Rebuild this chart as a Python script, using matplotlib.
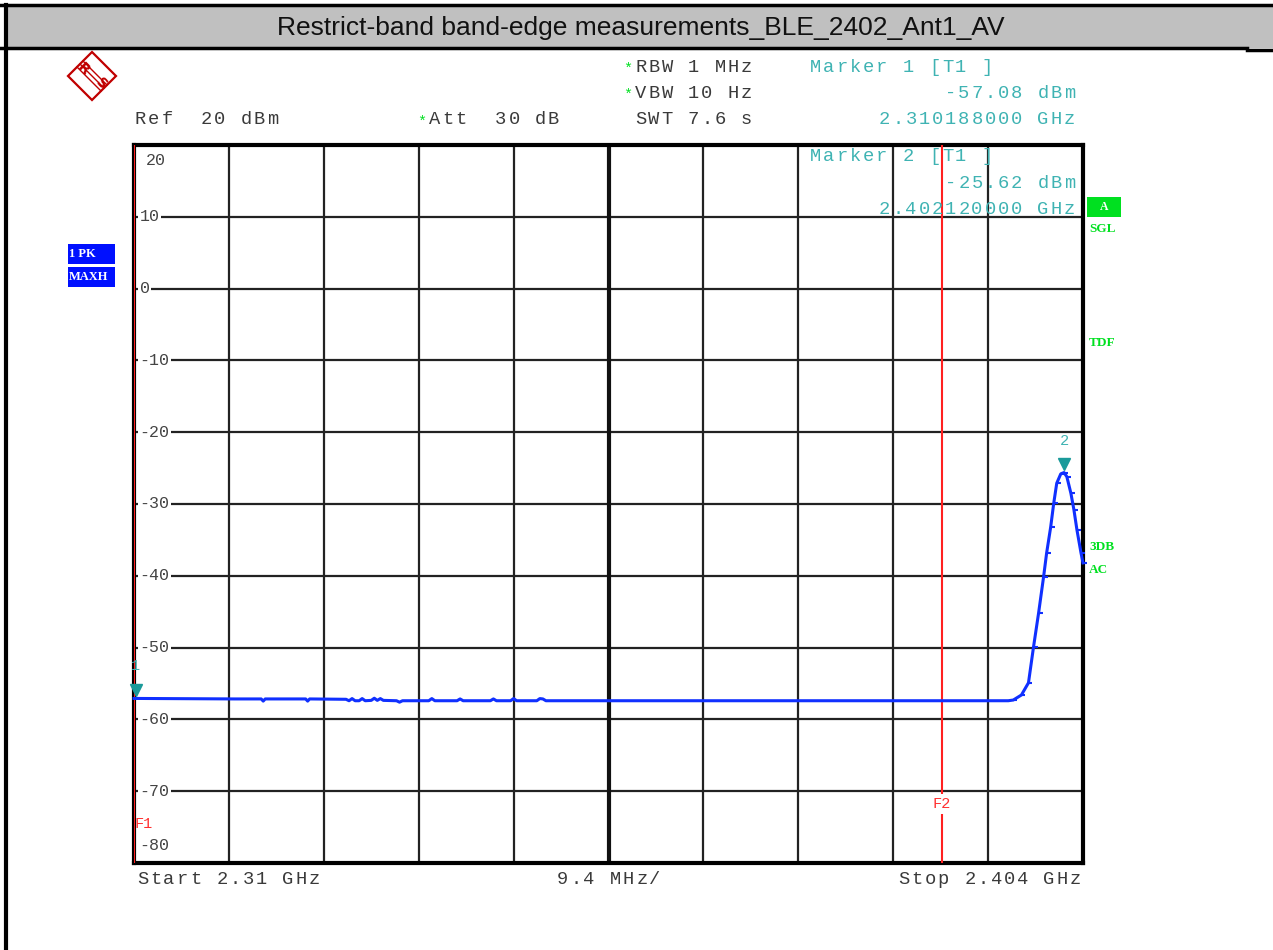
import matplotlib
matplotlib.use("Agg")
import matplotlib.pyplot as plt
from matplotlib.patches import Rectangle, Polygon
from matplotlib.lines import Line2D
from matplotlib.transforms import ScaledTranslation, blended_transform_factory

# spectrum trace (GHz, dBm)
freq_ghz = [2.3100, 2.3200, 2.3226, 2.3228, 2.3230, 2.3270, 2.3272, 2.3274,
            2.3310, 2.3313, 2.3316, 2.3319, 2.3323, 2.3326, 2.3329, 2.3335,
            2.3338, 2.3341, 2.3344, 2.3347, 2.3360, 2.3363, 2.3366, 2.3392,
            2.3395, 2.3398, 2.3420, 2.3423, 2.3426, 2.3453, 2.3456, 2.3459,
            2.3473, 2.3476, 2.3479, 2.3499, 2.3502, 2.3505, 2.3508, 2.3600,
            2.3800, 2.3966,
            2.3971, 2.3979, 2.3986, 2.3991, 2.3996, 2.4001, 2.4004, 2.4008,
            2.4011, 2.4014, 2.4018, 2.40212, 2.4024, 2.4028, 2.4031, 2.4034,
            2.4038, 2.4040]
level_dbm = [-57.08, -57.15, -57.15, -57.45, -57.15, -57.15, -57.45, -57.15,
             -57.2, -57.4, -57.1, -57.4, -57.4, -57.1, -57.4, -57.35,
             -57.05, -57.35, -57.1, -57.35, -57.4, -57.6, -57.4, -57.4,
             -57.1, -57.4, -57.4, -57.15, -57.4, -57.4, -57.15, -57.4,
             -57.4, -57.1, -57.4, -57.4, -57.1, -57.15, -57.4, -57.4,
             -57.4, -57.4,
             -57.3, -56.6, -54.9, -49.9, -45.2, -40.1, -36.8, -33.2,
             -29.9, -27.1, -25.8, -25.62, -26.2, -28.5, -30.8, -33.6,
             -36.8, -38.2]

start_ghz, stop_ghz = 2.31, 2.404
ref_dbm, bottom_dbm = 20, -80
x_ticks = [2.31 + 0.0094 * i for i in range(11)]
y_ticks = [20, 10, 0, -10, -20, -30, -40, -50, -60, -70, -80]
y_tick_labels = ["20", "10", "0", "-10", "-20", "-30", "-40", "-50", "-60", "-70", "-80"]

markers = [("1", 2.310188, -57.08), ("2", 2.40212, -25.62)]
f_lines = [("F1", 2.31), ("F2", 2.39)]

W, H = 1273, 950
MONO = "Liberation Mono"
TEAL = "#3fb3b3"
GREEN = "#00e020"
BLUE = "#1030ff"
GREY_TXT = "#3a3a3a"
PITCH = 13.2


def fx(x):
    return x / W


def fy(y):
    return 1 - y / H


fig = plt.figure(figsize=(W / 100, H / 100), dpi=100)


def spaced(x, y, s, color=GREY_TXT, size=13.5, ha="left", pitch=PITCH, **kw):
    # instrument font is a spaced-out courier, so place glyphs one by one
    if ha == "right":
        x = x - len(s) * pitch
    for i, ch in enumerate(s):
        if ch != " ":
            fig.text(fx(x + (i + 0.5) * pitch), fy(y), ch, family=MONO, fontsize=size,
                     color=color, ha="center", va="center", **kw)


# outer frame + title band
fig.patches.append(Rectangle((fx(6), fy(48)), fx(W - 6), 42 / H, transform=fig.transFigure,
                             facecolor="#c0c0c0", edgecolor="none", zorder=0))
fig.add_artist(Line2D([fx(0), fx(W)], [fy(5), fy(5)], color="black", lw=2.5))
fig.add_artist(Line2D([fx(0), fx(1247)], [fy(48), fy(48)], color="black", lw=2.5))
fig.add_artist(Line2D([fx(1247), fx(W)], [fy(50), fy(50)], color="black", lw=2.5))
fig.add_artist(Line2D([fx(6), fx(6)], [fy(5), fy(H)], color="black", lw=3))
fig.text(fx(641), fy(28), "Restrict-band band-edge measurements_BLE_2402_Ant1_AV",
         ha="center", va="center", fontsize=19, family="Liberation Sans", color="#111111")

# R&S logo
cx, cy, r = 92, 76, 24
fig.patches.append(Polygon([(fx(cx - r), fy(cy)), (fx(cx), fy(cy - r)), (fx(cx + r), fy(cy)),
                            (fx(cx), fy(cy + r))], closed=True, transform=fig.transFigure,
                           facecolor="none", edgecolor="#c00000", lw=1.6))
for d in (-3, 0, 3):
    fig.add_artist(Line2D([fx(cx - 12 + d), fx(cx + 12 + d)], [fy(cy - 12 - d), fy(cy + 12 - d)],
                          color="#c00000", lw=1))
fig.text(fx(cx - 9), fy(cy - 7), "R", color="#c00000", fontsize=10, fontweight="bold",
         ha="center", va="center", rotation=-45)
fig.text(fx(cx + 9), fy(cy + 8), "S", color="#c00000", fontsize=10, fontweight="bold",
         ha="center", va="center", rotation=-45)

# header texts
spaced(134, 120, "Ref  20 dBm")
spaced(415, 120, " Att  30 dB")
spaced(621, 67, " RBW 1 MHz")
spaced(621, 93, " VBW 10 Hz")
spaced(621, 120, " SWT 7.6 s")
for x, y in [(415, 120), (621, 67), (621, 93)]:
    fig.text(fx(x + PITCH / 2), fy(y + 2), "*", family=MONO, fontsize=11, color=GREEN,
             ha="center", va="center")

for (name, f, lvl), (y0, y1, y2) in zip(markers, [(67, 93, 120), (157, 183, 209)]):
    spaced(809, y0, f"Marker {name} [T1 ]", color=TEAL, zorder=5)
    spaced(1076, y1, f"{lvl:.2f} dBm", color=TEAL, ha="right", zorder=5)
    spaced(1076, y2, f"{f:.9f} GHz", color=TEAL, ha="right", zorder=5)

# side labels
fig.patches.append(Rectangle((fx(1087), fy(217)), 34 / W, 20 / H, transform=fig.transFigure,
                             facecolor=GREEN, edgecolor="none"))
fig.text(fx(1104), fy(207), "A", family="Liberation Serif", fontweight="bold", fontsize=8.5,
         color="white", ha="center", va="center")
for lab, y in [("SGL", 229), ("TDF", 343), ("3DB", 547), ("AC", 570)]:
    fig.text(fx(1089), fy(y), lab, family="Liberation Serif", fontweight="bold", fontsize=9.5,
             color=GREEN, va="center")
for lab, y0 in [("1 PK", 244), ("MAXH", 267)]:
    fig.patches.append(Rectangle((fx(68), fy(y0 + 20)), 47 / W, 20 / H, transform=fig.transFigure,
                                 facecolor="#0010ff", edgecolor="none"))
    fig.text(fx(69), fy(y0 + 10), lab, family="Liberation Serif", fontweight="bold", fontsize=9,
             color="white", va="center")

# footer texts
spaced(136, 880, f"Start {start_ghz:g} GHz")
spaced(556, 880, "9.4 MHz/")
spaced(1082, 880, f"Stop {stop_ghz:g} GHz", ha="right")

# plot area
ax = fig.add_axes([fx(134), fy(863), 949 / W, 718 / H])
ax.set_xlim(start_ghz, stop_ghz)
ax.set_ylim(bottom_dbm, ref_dbm)
ax.set_xticks(x_ticks)
ax.set_yticks(y_ticks)
ax.tick_params(length=0, labelbottom=False, labelleft=False)
ax.grid(True, color="#222222", lw=1.6)
ax.axvline(x_ticks[5], color="#111111", lw=3)
for s in ax.spines.values():
    s.set_linewidth(3)
    s.set_color("black")

trans_lab = blended_transform_factory(ax.transAxes, ax.transData)
for v, lab in zip(y_ticks, y_tick_labels):
    if v == ref_dbm:
        ax.annotate(lab, (0.012, v), xycoords=trans_lab, xytext=(0, -6), textcoords="offset points",
                    va="top", family=MONO, fontsize=12, color="#444444")
    elif v == bottom_dbm:
        ax.annotate(lab, (0.006, v), xycoords=trans_lab, xytext=(0, 7), textcoords="offset points",
                    va="bottom", family=MONO, fontsize=12, color="#444444")
    else:
        ax.text(0.006, v, lab, transform=trans_lab, va="center", family=MONO, fontsize=12,
                color="#444444", bbox=dict(facecolor="white", edgecolor="none", pad=1), zorder=3)

# F lines
ax.axvline(f_lines[0][1], color="#ff2020", lw=1.5, zorder=4)
ax.axvline(f_lines[1][1], color="#ff2020", lw=1.5, zorder=4)
ax.text(f_lines[0][1], -74.6, f_lines[0][0], family=MONO, fontsize=11, color="#ff3030",
        va="center", ha="left", zorder=5)
ax.text(f_lines[1][1], -71.8, f_lines[1][0], family=MONO, fontsize=11, color="#ff3030",
        va="center", ha="center", zorder=5,
        bbox=dict(facecolor="white", edgecolor="none", pad=2))

# trace
ax.plot(freq_ghz, level_dbm, color=BLUE, lw=2.2, zorder=6, clip_on=False)
ax.plot(freq_ghz[42:], level_dbm[42:], ls="none", marker=[(0, 0), (1, 0)], ms=6, mew=1.5,
        color=BLUE, zorder=6, clip_on=False)

# markers
off = ScaledTranslation(0, 6 / 72, fig.dpi_scale_trans)
for name, f, lvl in markers:
    ax.plot([f], [lvl], marker="v", ms=9, color="#1a9a9a", ls="none",
            transform=ax.transData + off, zorder=7, clip_on=False)
    ax.annotate(name, (f, lvl), xytext=(0, 18), textcoords="offset points", ha="center",
                va="bottom", family=MONO, fontsize=11, color=TEAL, zorder=7)

fig.savefig("out.png", dpi=100)
